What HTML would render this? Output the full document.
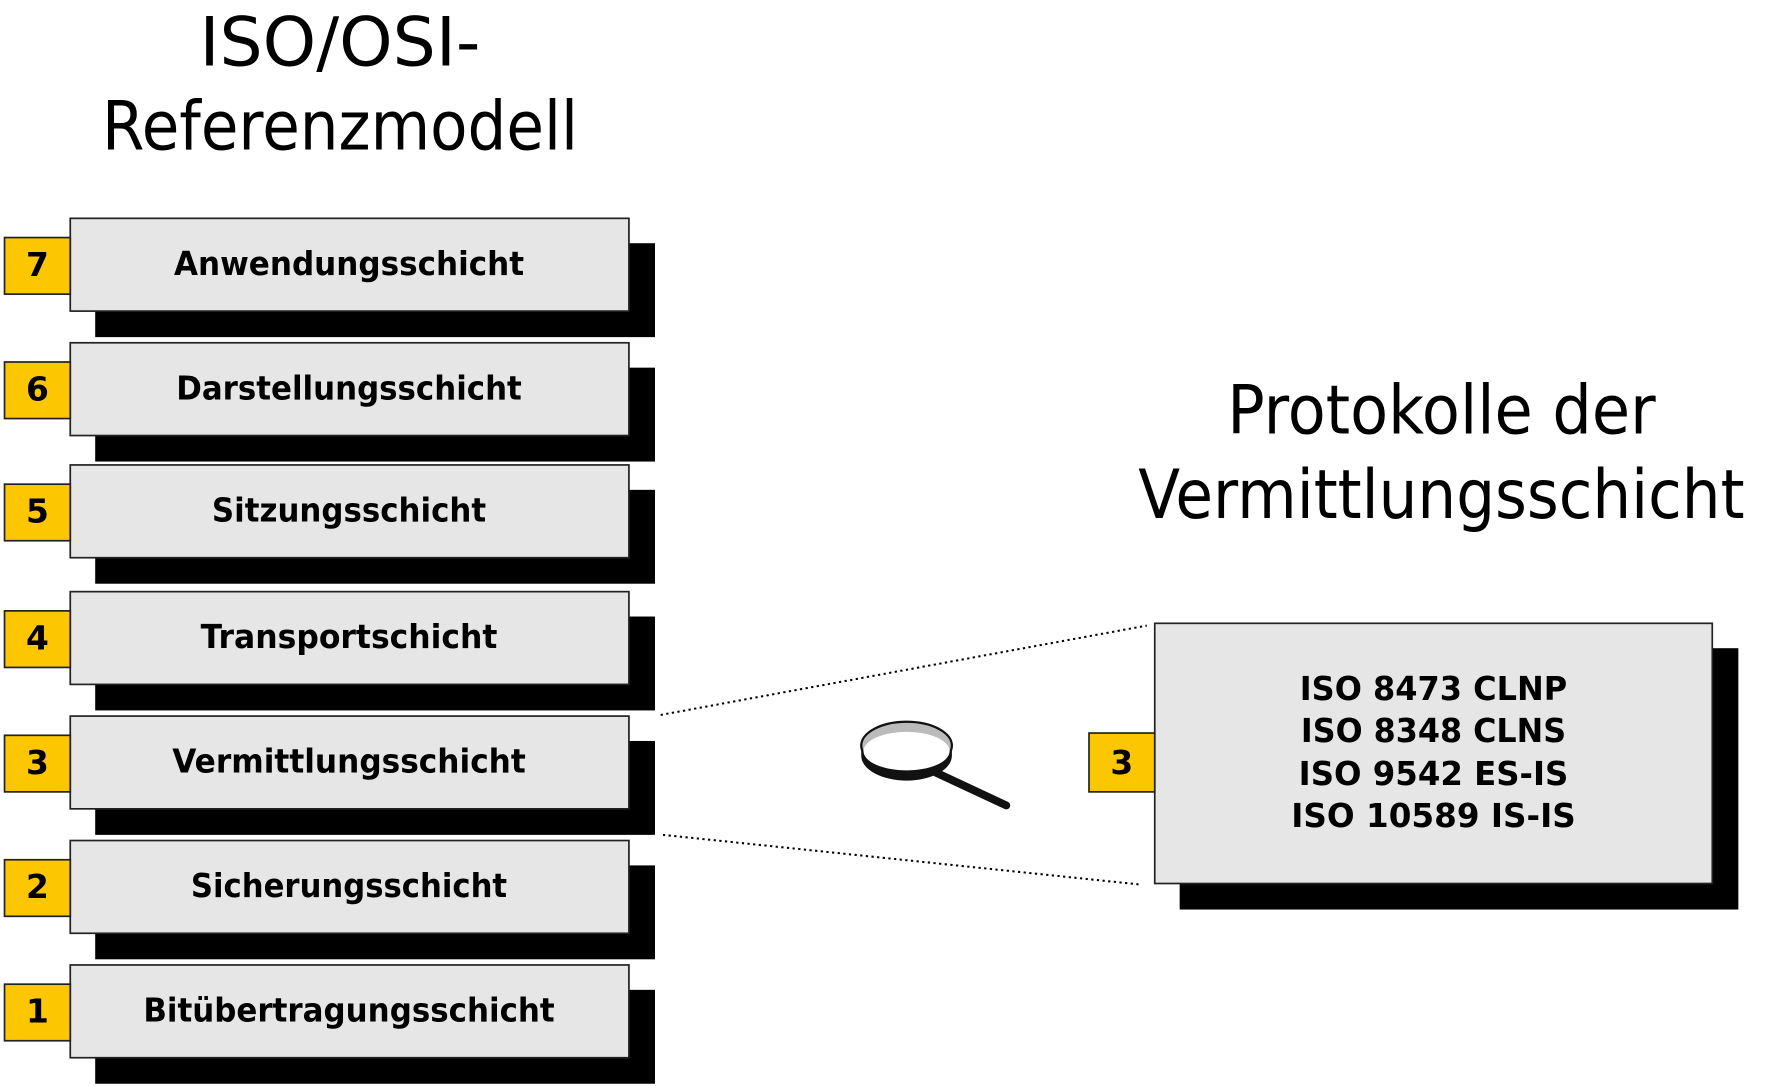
<!DOCTYPE html>
<html><head><meta charset="utf-8"><style>
html,body{margin:0;padding:0;background:#fff;width:1778px;height:1086px;overflow:hidden}
svg{display:block}
text{font-family:"DejaVu Sans","Liberation Sans",sans-serif}
</style></head><body>
<svg width="1778" height="1086" viewBox="0 0 1569 960" preserveAspectRatio="none">
<text x="300" y="58" font-size="60" text-anchor="middle" textLength="248" lengthAdjust="spacingAndGlyphs">ISO/OSI-</text>
<text x="300" y="132" font-size="60" text-anchor="middle" textLength="420" lengthAdjust="spacingAndGlyphs">Referenzmodell</text>
<text x="1272" y="383" font-size="60" text-anchor="middle" textLength="378" lengthAdjust="spacingAndGlyphs">Protokolle der</text>
<text x="1272" y="458" font-size="60" text-anchor="middle" textLength="535" lengthAdjust="spacingAndGlyphs">Vermittlungsschicht</text>
<g>
<g transform="translate(0,193)"><rect x="84" y="22" width="494" height="83" fill="#000"/><rect x="62" y="0" width="493" height="82" fill="#e6e6e6" stroke="#222" stroke-width="1.5"/><rect x="4" y="17" width="58" height="50" fill="#fcc600" stroke="#222" stroke-width="1.5"/><text x="33" y="51" font-size="29" font-weight="bold" text-anchor="middle">7</text><text x="308" y="50" font-size="29" font-weight="bold" text-anchor="middle" textLength="309" lengthAdjust="spacingAndGlyphs">Anwendungsschicht</text></g>
<g transform="translate(0,303)"><rect x="84" y="22" width="494" height="83" fill="#000"/><rect x="62" y="0" width="493" height="82" fill="#e6e6e6" stroke="#222" stroke-width="1.5"/><rect x="4" y="17" width="58" height="50" fill="#fcc600" stroke="#222" stroke-width="1.5"/><text x="33" y="51" font-size="29" font-weight="bold" text-anchor="middle">6</text><text x="308" y="50" font-size="29" font-weight="bold" text-anchor="middle" textLength="305" lengthAdjust="spacingAndGlyphs">Darstellungsschicht</text></g>
<g transform="translate(0,411)"><rect x="84" y="22" width="494" height="83" fill="#000"/><rect x="62" y="0" width="493" height="82" fill="#e6e6e6" stroke="#222" stroke-width="1.5"/><rect x="4" y="17" width="58" height="50" fill="#fcc600" stroke="#222" stroke-width="1.5"/><text x="33" y="51" font-size="29" font-weight="bold" text-anchor="middle">5</text><text x="308" y="50" font-size="29" font-weight="bold" text-anchor="middle" textLength="242" lengthAdjust="spacingAndGlyphs">Sitzungsschicht</text></g>
<g transform="translate(0,523)"><rect x="84" y="22" width="494" height="83" fill="#000"/><rect x="62" y="0" width="493" height="82" fill="#e6e6e6" stroke="#222" stroke-width="1.5"/><rect x="4" y="17" width="58" height="50" fill="#fcc600" stroke="#222" stroke-width="1.5"/><text x="33" y="51" font-size="29" font-weight="bold" text-anchor="middle">4</text><text x="308" y="50" font-size="29" font-weight="bold" text-anchor="middle" textLength="262" lengthAdjust="spacingAndGlyphs">Transportschicht</text></g>
<g transform="translate(0,633)"><rect x="84" y="22" width="494" height="83" fill="#000"/><rect x="62" y="0" width="493" height="82" fill="#e6e6e6" stroke="#222" stroke-width="1.5"/><rect x="4" y="17" width="58" height="50" fill="#fcc600" stroke="#222" stroke-width="1.5"/><text x="33" y="51" font-size="29" font-weight="bold" text-anchor="middle">3</text><text x="308" y="50" font-size="29" font-weight="bold" text-anchor="middle" textLength="312" lengthAdjust="spacingAndGlyphs">Vermittlungsschicht</text></g>
<g transform="translate(0,743)"><rect x="84" y="22" width="494" height="83" fill="#000"/><rect x="62" y="0" width="493" height="82" fill="#e6e6e6" stroke="#222" stroke-width="1.5"/><rect x="4" y="17" width="58" height="50" fill="#fcc600" stroke="#222" stroke-width="1.5"/><text x="33" y="51" font-size="29" font-weight="bold" text-anchor="middle">2</text><text x="308" y="50" font-size="29" font-weight="bold" text-anchor="middle" textLength="279" lengthAdjust="spacingAndGlyphs">Sicherungsschicht</text></g>
<g transform="translate(0,853)"><rect x="84" y="22" width="494" height="83" fill="#000"/><rect x="62" y="0" width="493" height="82" fill="#e6e6e6" stroke="#222" stroke-width="1.5"/><rect x="4" y="17" width="58" height="50" fill="#fcc600" stroke="#222" stroke-width="1.5"/><text x="33" y="51" font-size="29" font-weight="bold" text-anchor="middle">1</text><text x="308" y="50" font-size="29" font-weight="bold" text-anchor="middle" textLength="363" lengthAdjust="spacingAndGlyphs">Bitübertragungsschicht</text></g>
</g>
<line x1="583" y1="632" x2="1012" y2="553" stroke="#000" stroke-width="1.8" stroke-dasharray="2,3"/>
<line x1="585" y1="738" x2="1007" y2="782" stroke="#000" stroke-width="1.8" stroke-dasharray="2,3"/>
<rect x="1041" y="573" width="493" height="231" fill="#000"/>
<rect x="1019" y="551" width="492" height="230" fill="#e6e6e6" stroke="#222" stroke-width="1.5"/>
<rect x="961" y="648" width="58" height="52" fill="#fcc600" stroke="#222" stroke-width="1.5"/>
<text x="990" y="684" font-size="29" font-weight="bold" text-anchor="middle">3</text>
<g font-size="29" font-weight="bold" text-anchor="middle">
<text x="1265" y="619" textLength="236" lengthAdjust="spacingAndGlyphs">ISO 8473 CLNP</text>
<text x="1265" y="656" textLength="234" lengthAdjust="spacingAndGlyphs">ISO 8348 CLNS</text>
<text x="1265" y="694" textLength="238" lengthAdjust="spacingAndGlyphs">ISO 9542 ES-IS</text>
<text x="1265" y="731" textLength="251" lengthAdjust="spacingAndGlyphs">ISO 10589 IS-IS</text>
</g>
<g>
<line x1="826" y1="683" x2="888" y2="712" stroke="#111" stroke-width="7" stroke-linecap="round"/>
<path d="M760 658 L760 668 A40 22 0 0 0 840 668 L840 658 Z" fill="#111"/>
<ellipse cx="800" cy="659" rx="40" ry="21" fill="#bbb" stroke="#111" stroke-width="2"/>
<ellipse cx="800" cy="664" rx="38" ry="17" fill="#fff"/>
</g>
</svg>
</body></html>
